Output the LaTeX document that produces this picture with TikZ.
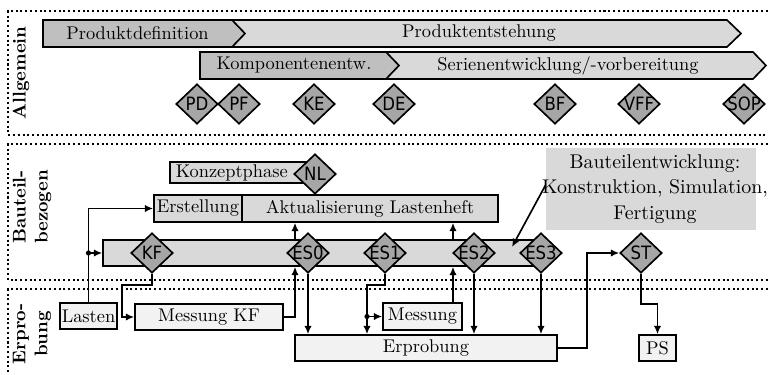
\documentclass[tikz,border=0pt]{standalone}
\usepackage{fontspec}
\newfontfamily\msfont{DejaVu Sans Condensed}
\usetikzlibrary{arrows.meta,shapes.geometric}
\newdimen\pu \pu=0.544pt
\definecolor{mgray}{HTML}{BFBFBF}
\definecolor{lgray}{HTML}{D9D9D9}
\definecolor{dgray}{HTML}{A6A6A6}
\definecolor{vlgray}{HTML}{F2F2F2}
\begin{document}
\begin{tikzpicture}[x=\pu, y=-\pu,
  frame/.style={line width=1.1pt, dash pattern=on 1.1pt off 1.5pt},
  outl/.style={draw, line width=0.9pt},
  box/.style={draw, line width=0.9pt, inner sep=0pt},
  msd/.style={diamond, draw, line width=0.9pt, fill=dgray, minimum width=42\pu, minimum height=40\pu, inner sep=0pt, label={[font=\msfont, inner sep=0pt]center:#1}},
  arr/.style={line width=0.9pt, -{Latex[length=4.5pt,width=4pt]}},
  sec/.style={rotate=90, font=\bfseries, align=center},
  dot/.style={fill=black}]
\useasboundingbox (0,0) rectangle (768,375);
% frames
\draw[frame] (768,11) -- (8,11) -- (8,135) -- (768,135);
\draw[frame] (768,144) -- (8,144) -- (8,280) -- (768,280);
\draw[frame] (768,289) -- (8,289) -- (8,378);
\node[sec] (lab1) at (21,73) {Allgemein};
\node[sec] (lab2) at (32,207) {Bauteil-\\bezogen};
\node[sec] (lab3) at (32,334) {Erpro-\\bung};
% top phase arrows
\draw[outl, fill=lgray] (225,20) -- (727,20) -- (741,33.5) -- (727,47) -- (225,47) -- cycle;
\draw[outl, fill=mgray] (43,20) -- (232,20) -- (245,33.5) -- (232,47) -- (43,47) -- cycle;
\draw[outl, fill=lgray] (380,52) -- (753,52) -- (766,65.5) -- (753,79) -- (380,79) -- cycle;
\draw[outl, fill=mgray] (200,52) -- (386,52) -- (399,65.5) -- (386,79) -- (200,79) -- cycle;
\node (tpd) at (137.5,33.5) {Produktdefinition};
\node (tpe) at (479,33.5) {Produktentstehung};
\node (tke) at (294,65.5) {Komponentenentw.};
\node (tse) at (568,65.5) {Serienentwicklung/-vorbereitung};
% top milestones
\node[msd=PD] (pd) at (197,104) {};
\node[msd=PF] (pf) at (239,104) {};
\node[msd=KE] (ke) at (314,104) {};
\node[msd=DE] (de) at (394,104) {};
\node[msd=BF] (bf) at (555,104) {};
\node[msd=VFF] (vff) at (639,104) {};
\node[msd=SOP] (sop) at (744,104) {};
% Bauteilbezogen
\node[box, fill=lgray, anchor=west, inner xsep=6\pu, text width=131\pu, align=left, minimum height=21\pu] (konz) at (169,172.5) {Konzeptphase};
\node[msd=NL] (nl) at (315,174) {};
\node[box, fill=lgray, minimum width=88\pu, minimum height=27\pu] (erst) at (198,208.5) {Erstellung};
\node[box, fill=lgray, minimum width=256\pu, minimum height=27\pu] (akt) at (370,208.5) {Aktualisierung Lastenheft};
\node[box, fill=lgray, minimum width=438\pu, minimum height=26\pu] (bar) at (322,253) {};
\node[fill=lgray, minimum width=210\pu, minimum height=82\pu, inner sep=0pt] (bte) at (651,189) {};
\node[align=center, inner sep=0pt, font={\fontsize{10.8}{14}\selectfont}] (btetxt) at (655,189) {Bauteilentwicklung:\\Konstruktion, Simulation,\\Fertigung};
\node[msd=KF] (kf) at (152,253) {};
\node[msd=ES0] (es0) at (308,253) {};
\node[msd=ES1] (es1) at (385,253) {};
\node[msd=ES2] (es2) at (474,253) {};
\node[msd=ES3] (es3) at (541,253) {};
\node[msd=ST] (st) at (641,253) {};
% Erprobung
\node[box, fill=vlgray, minimum width=57\pu, minimum height=26\pu] (lasten) at (88.5,316) {Lasten};
\node[box, fill=vlgray, minimum width=148\pu, minimum height=26\pu] (messkf) at (209,317) {Messung KF};
\node[box, fill=vlgray, minimum width=79\pu, minimum height=27\pu] (mess) at (422.5,316.5) {Messung};
\node[box, fill=vlgray, minimum width=262\pu, minimum height=26\pu] (erp) at (426,348) {Erprobung};
\node[box, fill=vlgray, minimum width=37\pu, minimum height=26\pu] (ps) at (657.5,348) {PS};
% helper coordinates
\coordinate (j1) at (lasten.north |- bar.west);
\coordinate (k1) at (122,285);
\coordinate (x0) at (295,0);
\coordinate (k2) at (367,285);
\coordinate (j2) at (k2 |- mess.west);
\coordinate (x1) at (453,0);
\coordinate (k3) at (587,253);
\coordinate (k4) at (657.5,304);
\coordinate (bt) at (512,247);
% connectors
\draw[arr] (lasten.north) |- (erst.west);
\fill[dot] (j1) circle (1.4pt);
\draw[arr] (j1) -- (bar.west);
\draw[arr] (kf.south) |- (k1) |- (messkf.west);
\draw[arr] (messkf.east) -| (x0 |- bar.south);
\draw[arr] (x0 |- bar.north) -- (x0 |- akt.south);
\draw[arr] (es0.south) -- (es0.south |- erp.north);
\draw[arr] (es1.south) |- (k2) -- (k2 |- erp.north);
\fill[dot] (j2) circle (1.4pt);
\draw[arr] (j2) -- (mess.west);
\draw[arr] (x1 |- mess.north) -- (x1 |- bar.south);
\draw[arr] (x1 |- bar.north) -- (x1 |- akt.south);
\draw[arr] (es2.south) -- (es2.south |- erp.north);
\draw[arr] (es3.south) -- (es3.south |- erp.north);
\draw[arr] (erp.east) -| (k3) -- (st.west);
\draw[arr] (st.south) |- (k4) -- (ps.north);
\draw[arr] ([yshift=2.2pt]bte.west) -- (bt);
\end{tikzpicture}
\end{document}
